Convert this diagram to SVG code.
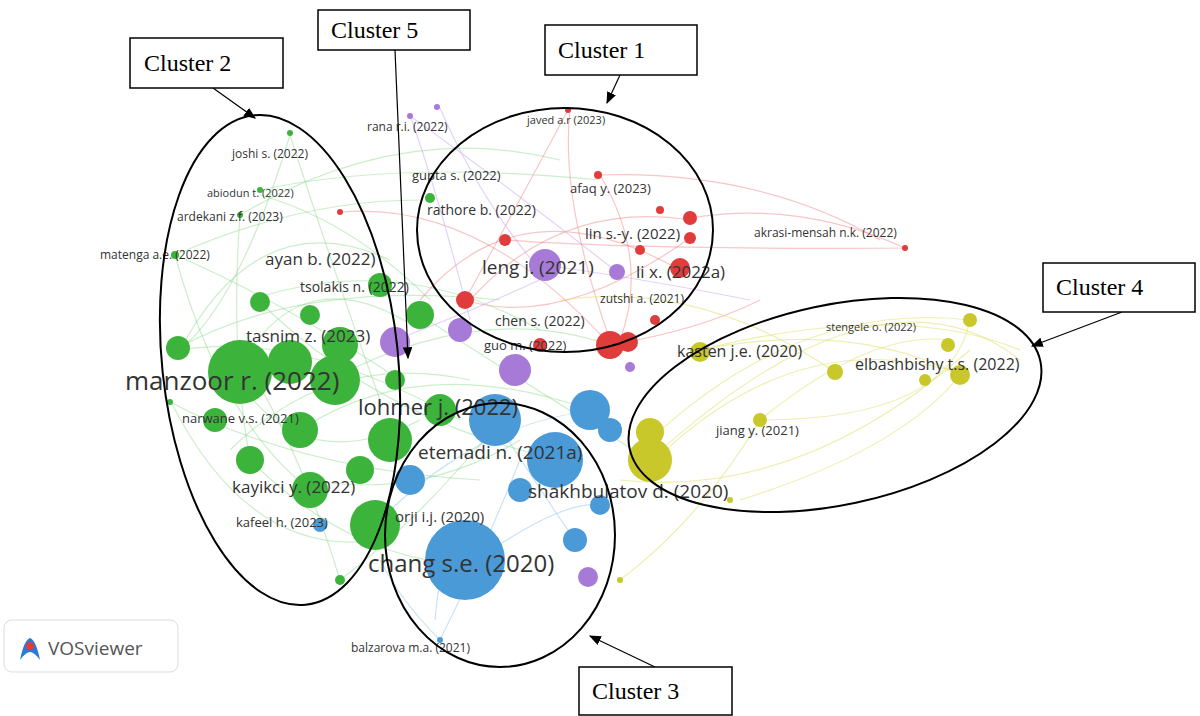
<svg xmlns="http://www.w3.org/2000/svg" width="1200" height="716" viewBox="0 0 1200 716">
<style>
.lb{font-family:"Open Sans","DejaVu Sans",sans-serif;fill:#333}
.cl{font-family:"Liberation Serif",serif;font-size:24px;fill:#000}
.box{fill:#fff;stroke:#000;stroke-width:1.5}
.ell{fill:none;stroke:#000;stroke-width:2}
.g{fill:#3cb43c}.r{fill:#e03c3c}.b{fill:#4a9ad8}.y{fill:#c8c82a}.p{fill:#a77ad8}
.eg{stroke:#7cd47c;fill:none;stroke-opacity:.4}
.er{stroke:#f08080;fill:none;stroke-opacity:.45}
.eb{stroke:#8ac0ea;fill:none;stroke-opacity:.45}
.ey{stroke:#e0e070;fill:none;stroke-opacity:.55}
.ep{stroke:#c8a8f0;fill:none;stroke-opacity:.5}
</style>
<defs><marker id="ar" markerWidth="10" markerHeight="8" refX="9" refY="4" orient="auto"><path d="M0,0L10,4L0,8z" fill="#000"/></marker></defs>
<rect width="1200" height="716" fill="#fff"/>
<g id="connectors" stroke-width="1.2">
<path class="eg" d="M235,375Q300,250 420,330"/><path class="eg" d="M235,375Q300,480 420,420"/><path class="eg" d="M180,350Q260,200 390,260"/>
<path class="eg" d="M175,255Q280,300 400,380"/><path class="eg" d="M290,135Q330,260 380,400"/><path class="eg" d="M170,400Q250,560 380,540"/>
<path class="eg" d="M340,580Q300,450 250,370"/><path class="eg" d="M260,195Q350,220 430,300"/><path class="eg" d="M180,350Q300,330 460,420"/>
<path class="eg" d="M230,450Q330,350 470,380"/><path class="eg" d="M250,300Q400,250 540,330"/><path class="eg" d="M310,480Q420,500 520,440"/>
<path class="eg" d="M175,255Q220,420 310,490"/><path class="eg" d="M240,215Q230,350 250,460"/><path class="eg" d="M290,135Q240,300 180,350"/>
<path class="eg" d="M175,255Q300,200 420,200"/><path class="eg" d="M178,348Q300,280 500,300"/><path class="eg" d="M170,402Q300,470 480,480"/>
<path class="eg" d="M260,302Q380,420 560,460"/><path class="eg" d="M300,430Q420,350 590,410"/><path class="eg" d="M250,460Q350,560 470,565"/>
<path class="eg" d="M340,580Q420,520 500,420"/><path class="eg" d="M330,380Q480,300 610,345"/><path class="eg" d="M420,315Q520,380 650,460"/>
<path class="eg" d="M260,190Q400,160 600,180"/><path class="eg" d="M240,215Q400,120 560,160"/>
<path class="er" d="M470,300Q560,200 690,220"/><path class="er" d="M505,240Q640,250 905,248"/><path class="er" d="M570,110Q560,200 610,340"/>
<path class="er" d="M420,300Q520,180 680,270"/><path class="er" d="M340,212Q480,200 610,345"/><path class="er" d="M600,175Q650,260 620,340"/>
<path class="er" d="M690,218Q800,200 905,248"/><path class="er" d="M598,175Q760,170 880,240"/><path class="er" d="M465,300Q560,330 690,238"/>
<path class="er" d="M568,110Q520,200 465,300"/><path class="er" d="M610,345Q700,330 760,300"/>
<path class="ep" d="M410,115Q440,200 470,320"/><path class="ep" d="M440,108Q480,200 540,270"/><path class="ep" d="M395,340Q500,300 560,270"/>
<path class="ep" d="M410,116Q500,180 617,272"/><path class="ep" d="M545,265Q650,280 750,300"/>
<path class="eb" d="M435,620Q440,550 470,520"/><path class="eb" d="M440,640Q480,560 520,460"/><path class="eb" d="M380,520Q480,420 600,410"/>
<path class="eb" d="M440,640Q400,600 380,560"/><path class="eb" d="M470,565Q560,500 600,505"/><path class="eb" d="M495,420Q560,520 575,540"/>
<path class="ey" d="M655,460Q800,320 965,375"/><path class="ey" d="M650,440Q800,300 970,320"/><path class="ey" d="M700,350Q850,320 960,375"/>
<path class="ey" d="M620,480Q800,500 970,350"/><path class="ey" d="M760,420Q870,330 950,340"/><path class="ey" d="M740,500Q900,450 960,375"/>
<path class="ey" d="M650,460Q880,250 1020,360"/><path class="ey" d="M700,350Q900,300 1020,350"/><path class="ey" d="M760,420Q950,420 970,320"/>
<path class="ey" d="M560,300Q700,280 835,372"/><path class="ey" d="M620,580Q700,520 760,420"/>
</g>
<g id="nodes">
<circle class="g" cx="290" cy="133" r="3"/><circle class="g" cx="260" cy="190" r="3"/><circle class="g" cx="240" cy="215" r="3"/>
<circle class="g" cx="175" cy="255" r="4"/><circle class="g" cx="260" cy="302" r="10"/><circle class="g" cx="310" cy="315" r="10"/>
<circle class="g" cx="380" cy="285" r="12"/><circle class="g" cx="420" cy="315" r="14"/><circle class="g" cx="340" cy="345" r="18"/>
<circle class="g" cx="240" cy="372" r="32"/><circle class="g" cx="290" cy="362" r="22"/><circle class="g" cx="178" cy="348" r="12"/><circle class="g" cx="335" cy="380" r="25"/>
<circle class="g" cx="390" cy="440" r="22"/><circle class="g" cx="300" cy="430" r="18"/><circle class="g" cx="250" cy="460" r="14"/>
<circle class="g" cx="310" cy="490" r="18"/><circle class="g" cx="375" cy="525" r="25"/><circle class="g" cx="440" cy="410" r="16"/>
<circle class="g" cx="340" cy="580" r="5"/><circle class="g" cx="170" cy="402" r="3"/><circle class="g" cx="430" cy="198" r="5"/>
<circle class="g" cx="360" cy="470" r="14"/><circle class="g" cx="215" cy="420" r="12"/><circle class="g" cx="395" cy="380" r="10"/>
<circle class="r" cx="568" cy="110" r="3"/><circle class="r" cx="598" cy="175" r="4"/><circle class="r" cx="690" cy="218" r="7"/>
<circle class="r" cx="690" cy="238" r="6"/><circle class="r" cx="680" cy="268" r="10"/><circle class="r" cx="505" cy="240" r="6"/>
<circle class="r" cx="465" cy="300" r="9"/><circle class="r" cx="610" cy="345" r="14"/><circle class="r" cx="628" cy="342" r="10"/>
<circle class="r" cx="340" cy="212" r="3"/><circle class="r" cx="905" cy="248" r="3"/><circle class="r" cx="655" cy="320" r="5"/>
<circle class="r" cx="660" cy="210" r="4"/><circle class="r" cx="640" cy="250" r="5"/><circle class="r" cx="540" cy="345" r="7"/>
<circle class="p" cx="410" cy="116" r="3"/><circle class="p" cx="437" cy="107" r="3"/><circle class="p" cx="545" cy="265" r="16"/>
<circle class="p" cx="617" cy="272" r="8"/><circle class="p" cx="460" cy="330" r="12"/><circle class="p" cx="395" cy="342" r="15"/>
<circle class="p" cx="515" cy="370" r="16"/><circle class="p" cx="588" cy="577" r="10"/><circle class="p" cx="630" cy="367" r="5"/>
<circle class="b" cx="495" cy="420" r="26"/><circle class="b" cx="555" cy="460" r="28"/><circle class="b" cx="590" cy="410" r="20"/>
<circle class="b" cx="465" cy="560" r="40"/><circle class="b" cx="600" cy="505" r="10"/><circle class="b" cx="575" cy="540" r="12"/>
<circle class="b" cx="410" cy="480" r="15"/><circle class="b" cx="320" cy="525" r="7"/><circle class="b" cx="440" cy="640" r="3"/>
<circle class="b" cx="610" cy="430" r="12"/><circle class="b" cx="520" cy="490" r="12"/>
<circle class="y" cx="650" cy="460" r="22"/><circle class="y" cx="650" cy="432" r="14"/><circle class="y" cx="700" cy="352" r="10"/>
<circle class="y" cx="760" cy="420" r="7"/><circle class="y" cx="835" cy="372" r="8"/><circle class="y" cx="960" cy="375" r="10"/>
<circle class="y" cx="948" cy="345" r="7"/><circle class="y" cx="970" cy="320" r="7"/><circle class="y" cx="620" cy="580" r="3"/>
<circle class="y" cx="730" cy="500" r="3"/><circle class="y" cx="925" cy="380" r="6"/>
</g>
<g id="labels">
<text class="lb" x="232" y="158" font-size="12">joshi s. (2022)</text>
<text class="lb" x="207" y="197" font-size="11">abiodun t. (2022)</text>
<text class="lb" x="177" y="221" font-size="12">ardekani z.f. (2023)</text>
<text class="lb" x="100" y="259" font-size="12">matenga a.e. (2022)</text>
<text class="lb" x="265" y="265" font-size="17">ayan b. (2022)</text>
<text class="lb" x="300" y="292" font-size="14">tsolakis n. (2022)</text>
<text class="lb" x="246" y="342" font-size="17">tasnim z. (2023)</text>
<text class="lb" x="125" y="390" font-size="26">manzoor r. (2022)</text>
<text class="lb" x="182" y="423" font-size="13">narwane v.s. (2021)</text>
<text class="lb" x="232" y="493" font-size="17">kayikci y. (2022)</text>
<text class="lb" x="236" y="527" font-size="13">kafeel h. (2023)</text>
<text class="lb" x="367" y="131" font-size="12">rana r.i. (2022)</text>
<text class="lb" x="527" y="124" font-size="11">javed a.r (2023)</text>
<text class="lb" x="412" y="180" font-size="13">gupta s. (2022)</text>
<text class="lb" x="570" y="193" font-size="13">afaq y. (2023)</text>
<text class="lb" x="427" y="215" font-size="14">rathore b. (2022)</text>
<text class="lb" x="585" y="239" font-size="15">lin s.-y. (2022)</text>
<text class="lb" x="754" y="237" font-size="12">akrasi-mensah n.k. (2022)</text>
<text class="lb" x="482" y="274" font-size="19">leng j. (2021)</text>
<text class="lb" x="636" y="278" font-size="17">li x. (2022a)</text>
<text class="lb" x="600" y="303" font-size="12">zutshi a. (2021)</text>
<text class="lb" x="495" y="326" font-size="14">chen s. (2022)</text>
<text class="lb" x="484" y="350" font-size="13">guo m. (2022)</text>
<text class="lb" x="826" y="331" font-size="11">stengele o. (2022)</text>
<text class="lb" x="677" y="357" font-size="16">kasten j.e. (2020)</text>
<text class="lb" x="855" y="370" font-size="16">elbashbishy t.s. (2022)</text>
<text class="lb" x="358" y="415" font-size="22">lohmer j. (2022)</text>
<text class="lb" x="716" y="435" font-size="13">jiang y. (2021)</text>
<text class="lb" x="418" y="459" font-size="19">etemadi n. (2021a)</text>
<text class="lb" x="528" y="498" font-size="19">shakhbulatov d. (2020)</text>
<text class="lb" x="395" y="522" font-size="15">orji i.j. (2020)</text>
<text class="lb" x="368" y="572" font-size="24">chang s.e. (2020)</text>
<text class="lb" x="351" y="652" font-size="12">balzarova m.a. (2021)</text>
</g>
<g id="clusters">
<ellipse class="ell" cx="280" cy="360" rx="118" ry="246" transform="rotate(-6 280 360)"/>
<ellipse class="ell" cx="565" cy="230" rx="148" ry="122"/>
<ellipse class="ell" cx="835" cy="405" rx="210" ry="100" transform="rotate(-12 835 405)"/>
<ellipse class="ell" cx="500" cy="535" rx="115" ry="132"/>
<g stroke="#000" stroke-width="1.2" marker-end="url(#ar)">
<line x1="213" y1="88" x2="255" y2="118"/><line x1="395" y1="50" x2="408" y2="358"/>
<line x1="620" y1="75" x2="607" y2="103"/><line x1="1122" y1="312" x2="1032" y2="346"/>
<line x1="655" y1="667" x2="590" y2="636"/>
</g>
<rect class="box" x="130" y="38" width="153" height="50"/><text class="cl" x="144" y="71">Cluster 2</text>
<rect class="box" x="318" y="10" width="152" height="40"/><text class="cl" x="331" y="38">Cluster 5</text>
<rect class="box" x="545" y="25" width="152" height="50"/><text class="cl" x="558" y="58">Cluster 1</text>
<rect class="box" x="1043" y="263" width="152" height="49"/><text class="cl" x="1056" y="295">Cluster 4</text>
<rect class="box" x="579" y="667" width="153" height="48"/><text class="cl" x="592" y="699">Cluster 3</text>
</g>
<g id="logo">
<rect x="4" y="620" width="174" height="52" rx="8" fill="#fff" stroke="#ddd"/>
<path d="M20,660Q24,640 30,638Q36,640 40,660Q34,652 30,652Q26,652 20,660z" fill="#2a7bd8"/>
<circle cx="30" cy="646" r="4" fill="#e03c3c"/>
<text x="48" y="655" font-family="Open Sans,DejaVu Sans,sans-serif" font-size="19" fill="#555">VOSviewer</text>
</g>
</svg>
